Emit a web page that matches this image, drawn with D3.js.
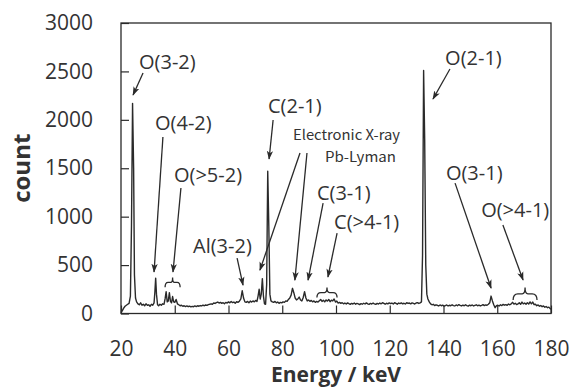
<!DOCTYPE html>
<html><head><meta charset="utf-8">
<script src="https://cdn.jsdelivr.net/npm/d3@7/dist/d3.min.js"></script>
<style>body{margin:0;background:#fff}svg{display:block}</style>
</head><body>
<svg id="c" width="574" height="388"></svg>
<script>
// ---- data ----
const energy = [20.0,20.5,21.0,21.5,22.0,22.5,23.0,23.5,23.9,24.3,24.7,25.0,25.4,25.8,26.3,26.8,27.3,27.8,28.3,28.8,29.3,29.8,30.3,30.8,31.3,31.8,32.3,32.6,32.9,33.2,33.6,34.0,34.5,35.0,35.5,36.0,36.4,36.8,37.2,37.6,38.0,38.4,38.8,39.2,39.6,40.0,40.5,41.0,41.5,42.0,42.5,43.0,43.5,44.0,44.5,45.0,45.5,46.0,46.5,47.0,47.5,48.0,48.5,49.0,49.5,50.0,50.5,51.0,51.5,52.0,52.5,53.0,53.5,54.0,54.5,55.0,55.5,56.0,56.5,57.0,57.5,58.0,58.5,59.0,59.5,60.0,60.5,61.0,61.5,62.0,62.5,63.0,63.5,64.0,64.6,65.1,65.6,66.1,66.6,67.1,67.6,68.1,68.6,69.1,69.6,70.1,70.6,71.0,71.4,71.8,72.2,72.6,73.0,73.4,73.8,74.2,74.6,75.0,75.4,75.8,76.3,76.8,77.3,77.8,78.3,78.8,79.3,79.8,80.3,80.8,81.3,81.8,82.3,82.8,83.3,83.8,84.3,84.8,85.3,85.8,86.3,86.8,87.3,87.8,88.3,88.8,89.3,89.8,90.3,90.8,91.3,91.8,92.3,92.8,93.3,93.8,94.3,94.8,95.3,95.8,96.3,96.8,97.3,97.8,98.3,98.8,99.3,99.8,100.3,100.8,101.3,101.8,102.3,102.8,103.3,103.8,104.3,104.8,105.3,105.8,106.3,106.8,107.3,107.8,108.3,108.8,109.3,109.8,110.3,110.8,111.3,111.8,112.3,112.8,113.3,113.8,114.3,114.8,115.3,115.8,116.3,116.8,117.3,117.8,118.3,118.8,119.3,119.8,120.3,120.8,121.3,121.8,122.3,122.8,123.3,123.8,124.3,124.8,125.3,125.8,126.3,126.8,127.3,127.8,128.3,128.8,129.3,129.8,130.3,130.8,131.3,131.8,132.2,132.6,133.0,133.4,133.8,134.2,134.7,135.2,135.7,136.2,136.7,137.2,137.7,138.2,138.7,139.2,139.7,140.2,140.7,141.2,141.7,142.2,142.7,143.2,143.7,144.2,144.7,145.2,145.7,146.2,146.7,147.2,147.7,148.2,148.7,149.2,149.7,150.2,150.7,151.2,151.7,152.2,152.7,153.2,153.7,154.2,154.7,155.2,155.7,156.2,156.7,157.2,157.7,158.2,158.7,159.2,159.7,160.2,160.7,161.2,161.7,162.2,162.7,163.2,163.7,164.2,164.7,165.2,165.7,166.2,166.7,167.2,167.7,168.2,168.7,169.2,169.7,170.2,170.7,171.2,171.7,172.2,172.7,173.2,173.7,174.2,174.7,175.2,175.7,176.2,176.7,177.2,177.7,178.2,178.7,179.2,179.7,180.0];
const counts = [10,30,55,75,85,95,105,180,900,2170,1500,400,160,120,100,90,110,85,95,80,100,85,90,75,95,85,110,220,365,200,90,80,95,85,100,95,150,225,120,130,215,125,110,175,120,115,145,100,90,80,85,75,80,72,78,70,76,68,74,70,78,72,80,75,82,78,86,80,88,84,92,95,100,96,108,104,112,118,108,115,105,112,100,115,108,120,110,125,112,118,105,122,115,125,150,235,160,120,115,125,110,128,118,130,120,135,125,180,250,150,200,360,180,100,95,300,1470,900,200,130,120,115,125,110,118,105,115,110,120,115,130,125,145,160,190,260,215,160,140,150,170,140,130,165,225,160,130,140,125,135,120,130,115,125,118,132,145,125,138,120,140,128,145,122,138,130,150,118,128,108,115,105,112,100,108,98,110,102,95,104,98,108,96,104,100,92,102,96,106,98,110,100,95,104,98,108,100,94,104,98,108,100,112,104,96,106,100,110,102,108,98,112,104,96,108,102,110,100,106,98,112,104,108,100,110,104,98,108,112,104,110,120,600,2510,1800,500,200,150,120,100,90,95,82,90,85,78,88,80,86,75,82,88,78,85,80,90,82,78,88,80,92,84,78,86,80,90,82,76,86,80,88,78,84,90,80,86,78,84,92,82,88,85,95,110,180,130,90,60,80,85,78,90,82,94,86,92,84,98,90,100,115,98,105,92,100,110,95,118,100,108,96,112,98,120,100,118,92,95,80,88,75,82,70,78,65,72,60,66,50,45];
const xTicks = [20,40,60,80,100,120,140,160,180];
const yTicks = [0,500,1000,1500,2000,2500,3000];
const annLabels = ["O(3-2)","O(4-2)","O(>5-2)","Al(3-2)","C(2-1)","C(3-1)","C(>4-1)","O(2-1)","O(3-1)","O(>4-1)"];
const smallLabels = ["Electronic X-ray","Pb-Lyman"];

// ---- layout (in data units, placed through the scales) ----
const annPos = [[26.7,2597],[32.65,1967],[39.7,1430],[46.8,697],[74.7,2143],[92.9,1243],[99.3,945],[140.6,2639],[140.9,1451],[154,1069]];
const annArrows = [
  [28.2,2484,24.5,2257],[35.6,1823,32.3,429],[42.3,1296,39.35,429],[63.2,573,65.4,294],
  [76.6,1998,75.1,1596],[95.2,1141,89.6,345],[100.4,831,97.0,377],
  [142.4,2525,136.1,2215],[144.3,1346,157.7,263],[162.1,914,169.6,346]
];
const smallPos = [[84.0,1843],[95.9,1616]];
const smallArrows = [[86.6,1657,71.7,448],[89.2,1657,84.7,345]];
const braces = [[36.4,42.0,372,270],[92.9,100.4,268,165],[165.9,174.8,268,139]];

const svg = d3.select("#c");
const m = {l:121, t:23, r:551, b:313.5};
const x = d3.scaleLinear().domain([20,180]).range([m.l, m.r]);
const y = d3.scaleLinear().domain([0,3000]).range([m.b, m.t]);
const ink = "#2a2a2a";
const font = "'Open Sans', 'Noto Sans', sans-serif";

svg.append("defs").append("marker")
  .attr("id","ah").attr("viewBox","0 0 10 10").attr("refX",9).attr("refY",5)
  .attr("markerWidth",9).attr("markerHeight",9).attr("markerUnits","userSpaceOnUse")
  .attr("orient","auto")
  .append("path").attr("d","M0,1.5 L10,5 L0,8.5 L2.5,5 Z").attr("fill",ink);

// axes
const ya = svg.append("g").attr("transform",`translate(${m.l},0)`)
  .call(d3.axisLeft(y).tickValues(yTicks).tickSize(-8).tickPadding(28).tickFormat(d3.format("d")));
const xa = svg.append("g").attr("transform",`translate(0,${m.b})`)
  .call(d3.axisBottom(x).tickValues(xTicks).tickSize(-8).tickPadding(28));
[ya,xa].forEach(g=>{
  g.select(".domain").remove();
  g.selectAll(".tick line").attr("stroke",ink).attr("stroke-width",1.2);
  g.selectAll("text").attr("fill","#333").style("font-family",font).style("font-size","21px");
});

// frame
svg.append("rect").attr("x",m.l).attr("y",m.t).attr("width",m.r-m.l).attr("height",m.b-m.t)
  .attr("fill","none").attr("stroke",ink).attr("stroke-width",1.3);

// spectrum
const pts = energy.map((e,i)=>[e,counts[i]]);
svg.append("path").datum(pts)
  .attr("d", d3.line().x(d=>x(d[0])).y(d=>y(d[1])))
  .attr("fill","none").attr("stroke",ink).attr("stroke-width",1.4).attr("stroke-linejoin","round");

// annotations
svg.append("g").selectAll("text").data(annLabels).join("text")
  .attr("x",(d,i)=>x(annPos[i][0])).attr("y",(d,i)=>y(annPos[i][1]))
  .attr("dy","0.35em").attr("fill","#333")
  .style("font-family",font).style("font-size","20px").text(d=>d);
svg.append("g").selectAll("text").data(smallLabels).join("text")
  .attr("x",(d,i)=>x(smallPos[i][0])).attr("y",(d,i)=>y(smallPos[i][1]))
  .attr("dy","0.35em").attr("fill","#333")
  .attr("textLength",(d,i)=>i===0?107:71).attr("lengthAdjust","spacingAndGlyphs")
  .style("font-family","'Noto Sans CJK JP', sans-serif").style("font-size","14px").text(d=>d);
svg.append("g").selectAll("line").data(annArrows.concat(smallArrows)).join("line")
  .attr("x1",d=>x(d[0])).attr("y1",d=>y(d[1])).attr("x2",d=>x(d[2])).attr("y2",d=>y(d[3]))
  .attr("stroke",ink).attr("stroke-width",1.3).attr("marker-end","url(#ah)");

// braces
svg.append("g").selectAll("path").data(braces).join("path")
  .attr("d", d=>{
    const x0=x(d[0]), x1=x(d[1]), xc=(x0+x1)/2, yt=y(d[2]), yb=y(d[3]), ym=(yt+yb)/2;
    const w=(x1-x0);
    return `M${x0},${yb} Q${x0},${ym} ${x0+w*0.2},${ym} L${xc-w*0.12},${ym} Q${xc},${ym} ${xc},${yt} Q${xc},${ym} ${xc+w*0.12},${ym} L${x1-w*0.2},${ym} Q${x1},${ym} ${x1},${yb}`;
  })
  .attr("fill","none").attr("stroke",ink).attr("stroke-width",1.3);

// axis titles
svg.append("text").attr("transform",`translate(22,${(m.t+m.b)/2}) rotate(-90)`)
  .attr("text-anchor","middle").attr("dy","0.35em").attr("fill","#333")
  .style("font-family",font).style("font-size","24px").style("font-weight","bold").text("count");
svg.append("text").attr("x",336).attr("y",382).attr("text-anchor","middle").attr("fill","#333")
  .style("font-family",font).style("font-size","21px").style("font-weight","bold").text("Energy / keV");
</script>
</body></html>
